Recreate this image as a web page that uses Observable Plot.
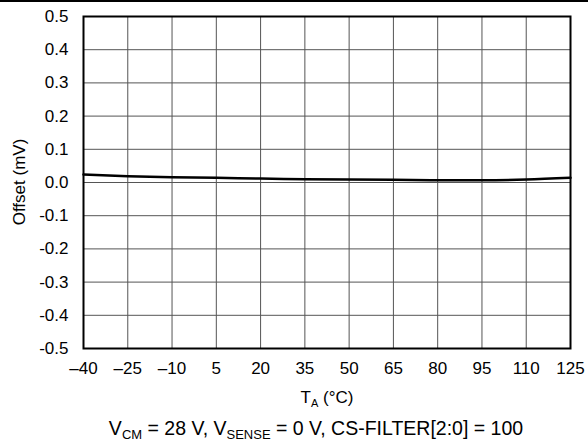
<!DOCTYPE html>
<html>
<head>
<meta charset="utf-8">
<script src="https://cdn.jsdelivr.net/npm/d3@7"></script>
<script src="https://cdn.jsdelivr.net/npm/@observablehq/plot@0.6"></script>
<style>
  html, body { margin: 0; padding: 0; background: #fff; }
  #wrap { position: relative; width: 588px; height: 445px; overflow: hidden; font-family: "Liberation Sans", Arial, sans-serif; }
  #topline { position: absolute; left: 0; top: 0; width: 588px; height: 2px; background: #000; }
  #chart { position: absolute; left: 0; top: 0; }
  #caption { position: absolute; left: 22px; width: 588px; top: 417px; text-align: center; font-size: 19.5px; color: #000; white-space: nowrap; }
  #caption sub { font-size: 13px; vertical-align: -4px; line-height: 0; }
</style>
</head>
<body>
<div id="wrap">
  <div id="chart"></div>
  <div id="topline"></div>
  <div id="caption">V<sub>CM</sub> = 28 V, V<sub>SENSE</sub> = 0 V, CS-FILTER[2:0] = 100</div>
</div>
<script>
const temperatures = [-40, -25, -10, 5, 20, 35, 50, 65, 80, 95, 110, 125];
const offsets = [0.024, 0.019, 0.016, 0.014, 0.012, 0.010, 0.009, 0.008, 0.007, 0.007, 0.009, 0.014];
const xTicks = [-40, -25, -10, 5, 20, 35, 50, 65, 80, 95, 110, 125];
const yTicks = [-0.5, -0.4, -0.3, -0.2, -0.1, 0.0, 0.1, 0.2, 0.3, 0.4, 0.5];

const data = temperatures.map((t, i) => ({t, v: offsets[i]}));

const plot = Plot.plot({
  width: 588,
  height: 410,
  marginLeft: 83,
  marginRight: 18,
  marginTop: 16,
  marginBottom: 62,
  style: {fontFamily: "'Liberation Sans', Arial, sans-serif", fontSize: "17px", color: "#000", background: "transparent"},
  x: {domain: [-40, 125], label: null},
  y: {domain: [-0.5, 0.5], label: null},
  marks: [
    Plot.gridX(xTicks, {stroke: "#555", strokeOpacity: 1, strokeWidth: 1}),
    Plot.gridY(yTicks, {stroke: "#555", strokeOpacity: 1, strokeWidth: 1}),
    Plot.axisX(xTicks, {tickSize: 0, tickPadding: 13, label: null,
      tickFormat: d => d < 0 ? "\u2013" + Math.abs(d) : String(d)}),
    Plot.axisY(yTicks, {tickSize: 0, tickPadding: 15, label: null,
      tickFormat: d => d.toFixed(1)}),
    Plot.line(data, {x: "t", y: "v", stroke: "#000", strokeWidth: 2.5, curve: "monotone-x"}),
    Plot.frame({stroke: "#000", strokeWidth: 2})
  ]
});
document.getElementById("chart").appendChild(plot);

const svg = d3.select(plot);
// y-axis label
svg.append("text")
  .attr("transform", "translate(25,182) rotate(-90)")
  .attr("text-anchor", "middle")
  .attr("font-size", 17)
  .attr("fill", "#000")
  .text("Offset (mV)");
// x-axis label with subscript
const xl = svg.append("text")
  .attr("x", 327)
  .attr("y", 403)
  .attr("text-anchor", "middle")
  .attr("font-size", 17)
  .attr("fill", "#000");
xl.append("tspan").text("T");
xl.append("tspan").attr("font-size", 11).attr("dy", 4).text("A");
xl.append("tspan").attr("dy", -4).text(" (\u00B0C)");
</script>
</body>
</html>
